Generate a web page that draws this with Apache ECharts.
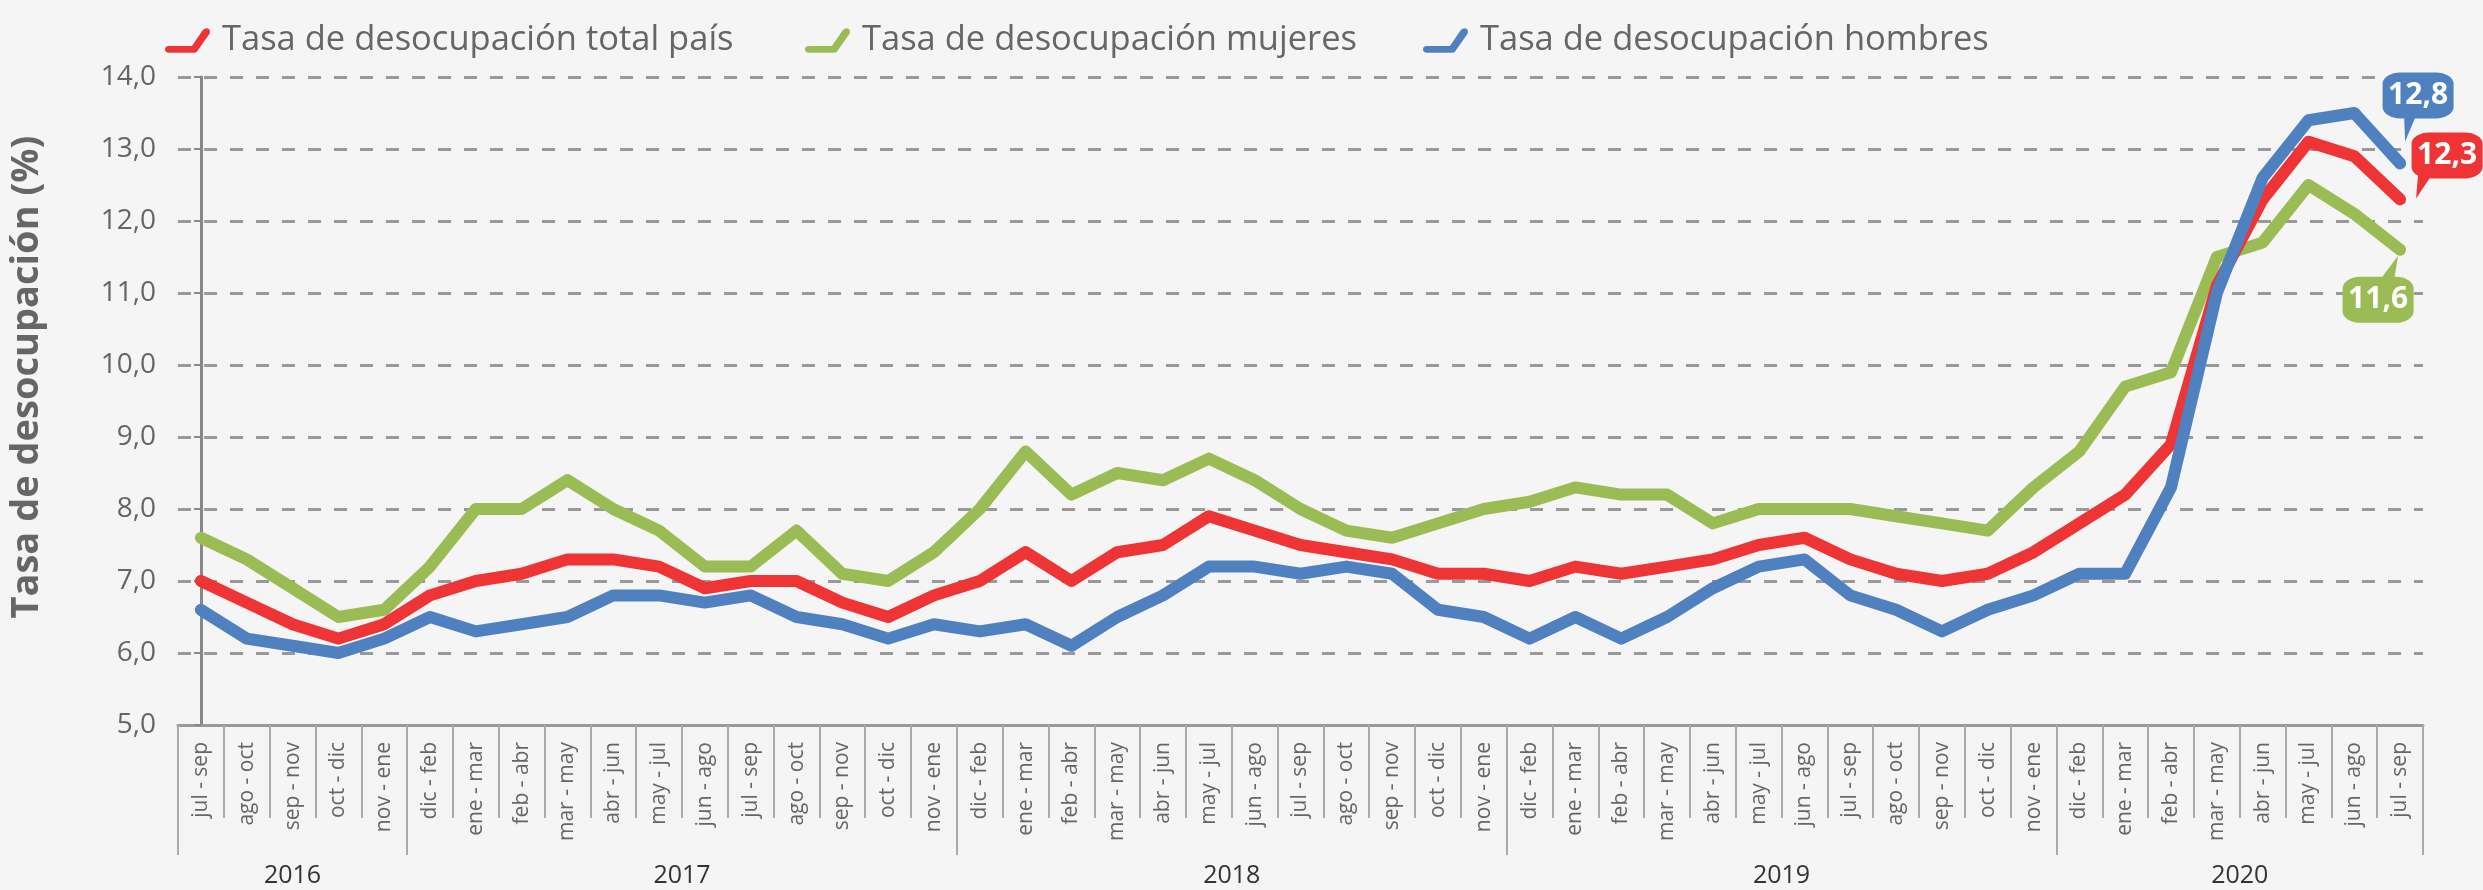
<!DOCTYPE html>
<html>
<head>
<meta charset="utf-8">
<script src="https://cdn.jsdelivr.net/npm/echarts@6/dist/echarts.min.js"></script>
<style>
html,body{margin:0;padding:0;background:#f5f5f5;}
#chart{width:2483px;height:890px;}
</style>
</head>
<body>
<div id="chart"></div>
<script>
// ---- data ----
const categories = [
  'jul - sep','ago - oct','sep - nov','oct - dic','nov - ene',
  'dic - feb','ene - mar','feb - abr','mar - may','abr - jun','may - jul','jun - ago','jul - sep','ago - oct','sep - nov','oct - dic','nov - ene',
  'dic - feb','ene - mar','feb - abr','mar - may','abr - jun','may - jul','jun - ago','jul - sep','ago - oct','sep - nov','oct - dic','nov - ene',
  'dic - feb','ene - mar','feb - abr','mar - may','abr - jun','may - jul','jun - ago','jul - sep','ago - oct','sep - nov','oct - dic','nov - ene',
  'dic - feb','ene - mar','feb - abr','mar - may','abr - jun','may - jul','jun - ago','jul - sep'
];
const years = ['2016','2017','2018','2019','2020'];
const yearCounts = [5, 12, 12, 12, 8];

const totalPais = [7.0,6.7,6.4,6.2,6.4, 6.8,7.0,7.1,7.3,7.3,7.2,6.9,7.0,7.0,6.7,6.5,6.8, 7.0,7.4,7.0,7.4,7.5,7.9,7.7,7.5,7.4,7.3,7.1,7.1, 7.0,7.2,7.1,7.2,7.3,7.5,7.6,7.3,7.1,7.0,7.1,7.4, 7.8,8.2,8.9,11.1,12.3,13.1,12.9,12.3];
const mujeres   = [7.6,7.3,6.9,6.5,6.6, 7.2,8.0,8.0,8.4,8.0,7.7,7.2,7.2,7.7,7.1,7.0,7.4, 8.0,8.8,8.2,8.5,8.4,8.7,8.4,8.0,7.7,7.6,7.8,8.0, 8.1,8.3,8.2,8.2,7.8,8.0,8.0,8.0,7.9,7.8,7.7,8.3, 8.8,9.7,9.9,11.5,11.7,12.5,12.1,11.6];
const hombres   = [6.6,6.2,6.1,6.0,6.2, 6.5,6.3,6.4,6.5,6.8,6.8,6.7,6.8,6.5,6.4,6.2,6.4, 6.3,6.4,6.1,6.5,6.8,7.2,7.2,7.1,7.2,7.1,6.6,6.5, 6.2,6.5,6.2,6.5,6.9,7.2,7.3,6.8,6.6,6.3,6.6,6.8, 7.1,7.1,8.3,11.0,12.6,13.4,13.5,12.8];

const seriesNames = ['Tasa de desocupación total país','Tasa de desocupación mujeres','Tasa de desocupación hombres'];
const colors = {red:'#EE3434', green:'#9BBB55', blue:'#4F81C0'};
const yTicks = {min:5, max:14, interval:1};

// ---- derived positions for year groups ----
const yearBounds = [-0.5];
const yearCenters = [];
let acc = 0;
yearCounts.forEach(c => { yearCenters.push(acc + (c - 1) / 2); acc += c; yearBounds.push(acc - 0.5); });
const yearLabelMap = {};
yearCenters.forEach((c, i) => { yearLabelMap[c] = years[i]; });

const fmt = v => v.toFixed(1).replace('.', ',');
const FONT = "'Open Sans','Noto Sans',sans-serif";
const last = categories.length - 1;
const iconPath = 'path://M4,18 L27,18 L38,2 Q41,-1 44,1 Q46,3 44.5,6 L32,24 Q31,25 29,25 L4,25 Q0,25 0,21.5 Q0,18 4,18 Z';

function callout(value, color, boxOffset, tailPath, tailSize, tailOffset) {
  return [
    { coord: [last, value], symbol: tailPath, symbolSize: tailSize, symbolOffset: tailOffset,
      itemStyle: { color: color }, label: { show: false } },
    { coord: [last, value], symbol: 'roundRect', symbolSize: [71, 46], symbolOffset: boxOffset,
      itemStyle: { color: color },
      label: { show: true, formatter: fmt(value), color: '#fff', fontSize: 30, fontWeight: 'bold', fontFamily: FONT } }
  ];
}

function lineSeries(name, data, color, markData) {
  return {
    name: name, type: 'line', data: data, symbol: 'none', smooth: false,
    lineStyle: { color: color, width: 12, cap: 'round', join: 'round' },
    itemStyle: { color: color },
    markPoint: { silent: true, animation: false, data: markData },
    animation: false
  };
}

const chart = echarts.init(document.getElementById('chart'));
const legendBase = {
  top: 18, itemWidth: 45, itemHeight: 25, icon: iconPath,
  textStyle: { fontSize: 34.5, color: '#666', fontFamily: FONT, padding: [0, 0, 0, 7] }
};
chart.setOption({
  backgroundColor: '#f5f5f5',
  textStyle: { fontFamily: FONT },
  legend: [
    Object.assign({}, legendBase, { left: 160, data: [seriesNames[0]] }),
    Object.assign({}, legendBase, { left: 800, data: [seriesNames[1]] }),
    Object.assign({}, legendBase, { left: 1418, data: [seriesNames[2]] })
  ],
  grid: { left: 169, right: 60, top: 77, bottom: 165, containLabel: false },
  xAxis: [
    {
      type: 'category', data: categories, boundaryGap: true,
      axisLine: { show: true, lineStyle: { color: '#999', width: 3 } },
      axisTick: { show: true, interval: 0, alignWithLabel: false, length: 93, lineStyle: { color: '#aaa', width: 2 } },
      axisLabel: { interval: 0, rotate: 90, fontSize: 21, color: '#666', margin: 17, fontFamily: FONT },
      splitLine: { show: false }
    },
    {
      type: 'value', position: 'bottom', min: -0.5, max: last + 0.5,
      axisLine: { show: false },
      axisTick: { show: true, customValues: yearBounds, length: 130, lineStyle: { color: '#aaa', width: 2 } },
      axisLabel: { show: true, customValues: yearCenters, formatter: v => yearLabelMap[v] || '', fontSize: 25, color: '#333', margin: 138, fontFamily: FONT },
      splitLine: { show: false }
    }
  ],
  yAxis: {
    type: 'value', min: yTicks.min, max: yTicks.max, interval: yTicks.interval,
    name: 'Tasa de desocupación (%)', nameLocation: 'middle', nameRotate: 90, nameGap: 132,
    nameTextStyle: { fontSize: 38, fontWeight: 'bold', color: '#666', fontFamily: FONT, padding: [0, 0, 0, 48] },
    axisLine: { show: true, lineStyle: { color: '#888', width: 3 } },
    axisTick: { show: true, length: 7, lineStyle: { color: '#888', width: 2 } },
    axisLabel: { formatter: fmt, fontSize: 28, color: '#666', margin: 22, fontFamily: FONT },
    splitLine: { show: true, lineStyle: { color: '#999', width: 3, type: [13, 13] } }
  },
  series: [
    lineSeries(seriesNames[1], mujeres, colors.green,
      callout(mujeres[last], colors.green, [-22, 50], 'path://M0,22 L14,22 L18,0 Z', [18, 24], [-11, 18])),
    lineSeries(seriesNames[0], totalPais, colors.red,
      callout(totalPais[last], colors.red, [47, -44], 'path://M2,0 L16,0 L0,22 Z', [16, 24], [24, -13])),
    lineSeries(seriesNames[2], hombres, colors.blue,
      callout(hombres[last], colors.blue, [18, -68], 'path://M0,0 L12,0 L1,22 Z', [12, 26], [10, -35]))
  ]
});
</script>
</body>
</html>
